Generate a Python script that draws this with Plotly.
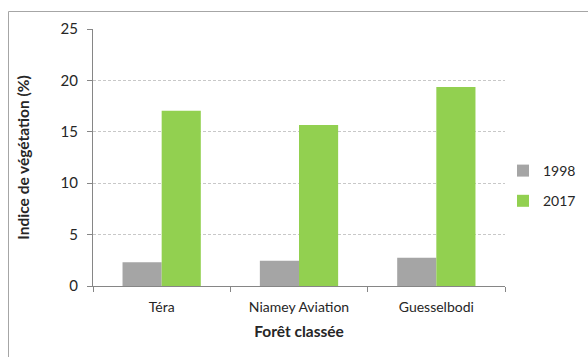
import plotly.graph_objects as go

categories = ["Téra", "Niamey Aviation", "Guesselbodi"]
years = ["1998", "2017"]
values_1998 = [2.3, 2.45, 2.75]
values_2017 = [17.05, 15.65, 19.35]
y_ticks = [0, 5, 10, 15, 20, 25]

FONT = "Lato, 'Open Sans', sans-serif"

fig = go.Figure()
fig.add_trace(go.Bar(x=categories, y=values_1998, name=years[0],
                     marker=dict(color="#A5A5A5", line=dict(width=0)),
                     legendgroup="a"))
fig.add_trace(go.Bar(x=categories, y=values_2017, name=years[1],
                     marker=dict(color="#92D050", line=dict(width=0)),
                     legendgroup="b"))

L, R, T, B = 93, 505, 29, 286
W, H = R - L, B - T

def px(x):
    return (x - L) / W

def py(y):
    return (B - y) / H

fig.update_layout(
    width=588, height=357,
    margin=dict(l=L, r=588 - R, t=T, b=357 - B, autoexpand=False),
    paper_bgcolor="white", plot_bgcolor="white",
    barmode="group", bargap=0.43, bargroupgap=0,
    font=dict(family=FONT, size=14, color="#262626"),
    showlegend=True,
    legend=dict(x=503 / 588, y=1 - 155 / 357, xref="container", yref="container",
                xanchor="left", yanchor="top",
                font=dict(size=14, color="#262626"), tracegroupgap=9,
                itemwidth=30, bgcolor="rgba(0,0,0,0)"),
    xaxis=dict(
        type="category", showline=True, linecolor="#868686", linewidth=1,
        ticks="outside", ticklen=5, tickcolor="#868686", tickson="boundaries",
        tickfont=dict(size=14), ticklabelstandoff=8,
        title=dict(text="<b>Forêt classée</b>", font=dict(size=15.5), standoff=12),
        showgrid=False,
    ),
    yaxis=dict(
        range=[0, 25], tickvals=y_ticks, showline=True, linecolor="#868686",
        linewidth=1, ticks="outside", ticklen=5, tickcolor="#868686",
        tickfont=dict(size=15), ticklabelstandoff=6,
        showgrid=True, gridcolor="#C8C8C8", griddash="3px,2px", gridwidth=1,
        zeroline=False,
        title=dict(text="<b>Indice de végétation (%)</b>", font=dict(size=15.5), standoff=27),
    ),
    shapes=[dict(type="rect", xref="paper", yref="paper",
                 x0=px(8.5), x1=px(620), y0=py(11.5), y1=py(380),
                 line=dict(color="#A6A6A6", width=1), fillcolor="rgba(0,0,0,0)",
                 layer="below")],
)

fig.write_html("out.html")
